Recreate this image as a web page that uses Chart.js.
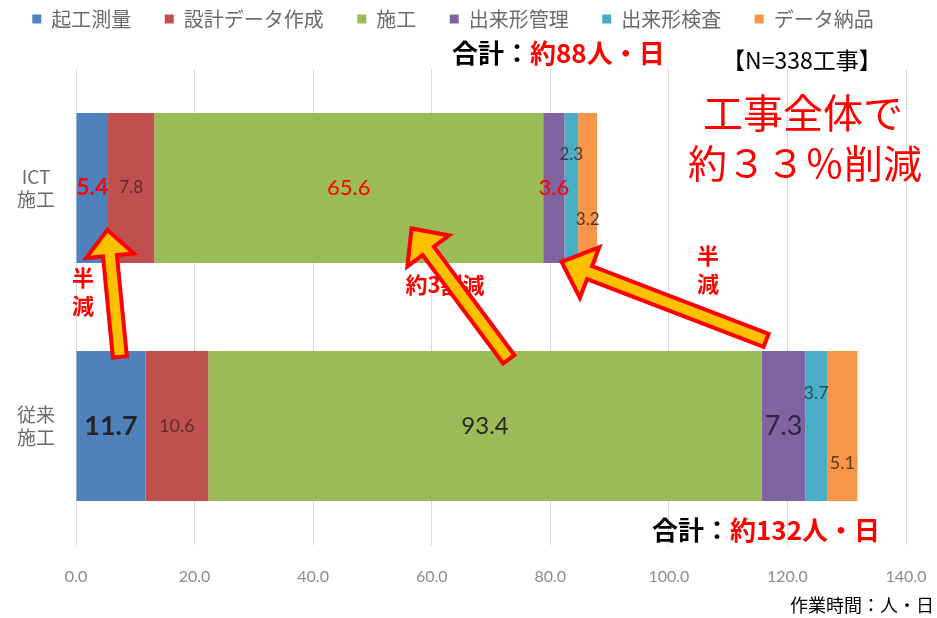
<!DOCTYPE html>
<html>
<head>
<meta charset="utf-8">
<script src="https://cdn.jsdelivr.net/npm/chart.js@4"></script>
<style>
  html, body { margin: 0; padding: 0; background: #fff; }
</style>
</head>
<body>
<canvas id="chart" width="937" height="618"></canvas>
<script>
// chart data
const categories = [['ICT', '施工'], ['従来', '施工']];
const seriesNames = ['起工測量', '設計データ作成', '施工', '出来形管理', '出来形検査', 'データ納品'];
const kikouSokuryou = [5.4, 11.7];
const sekkeiData = [7.8, 10.6];
const sekou = [65.6, 93.4];
const dekigataKanri = [3.6, 7.3];
const dekigataKensa = [2.3, 3.7];
const dataNouhin = [3.2, 5.1];
const xMin = 0, xMax = 140, xStep = 20;

const seriesValues = [kikouSokuryou, sekkeiData, sekou, dekigataKanri, dekigataKensa, dataNouhin];
const seriesColors = ['#4f81bd', '#c0504d', '#9bbb59', '#8064a2', '#4bacc6', '#f79646'];

// label look per series / per category: [colour, size, bold, dy]
const labelStyle = [
  [['#ff0000', 23, true, 0], ['#262626', 27, true, 0]],
  [['#5a2e2c', 17, false, 0], ['#5a2e2c', 18, false, 0]],
  [['#ff0000', 22, false, 0], ['#262626', 24, false, 0]],
  [['#ff0000', 22, false, 0], ['#2e2640', 27, false, 0]],
  [['#3a3f48', 17, false, -33], ['#24505c', 18, false, -33]],
  [['#4a3a30', 17, false, 32], ['#5c3a1a', 18, false, 37]]
];

// arrows in data units: [x, category index]
const arrows = [
  { from: [7.4, 0.71], to: [5.3, 0.176], head: 26, wing: 48 },
  { from: [73.0, 0.72], to: [56.6, 0.17], head: 28, wing: 52 },
  { from: [116.4, 0.64], to: [81.9, 0.31], head: 30, wing: 54 }
];

const jp = '"Noto Sans CJK JP", "Noto Sans", sans-serif';
const notes = [
  { parts: [['合計：', '#000'], ['約88人・日', '#ff0000']], x: 452, y: 53, size: 26, bold: true, align: 'left' },
  { parts: [['【N=338工事】', '#000']], x: 722, y: 60, size: 23, bold: false, align: 'left' },
  { parts: [['工事全体で', '#ff0000']], x: 803, y: 113, size: 40, bold: false, align: 'center' },
  { parts: [['約３３％削減', '#ff0000']], x: 805, y: 163, size: 39, bold: false, align: 'center' },
  { parts: [['半', '#ff0000']], x: 83, y: 278, size: 22, bold: true, align: 'center' },
  { parts: [['減', '#ff0000']], x: 83, y: 306, size: 22, bold: true, align: 'center' },
  { parts: [['約3割減', '#ff0000']], x: 445, y: 285, size: 22, bold: true, align: 'center' },
  { parts: [['半', '#ff0000']], x: 708, y: 256, size: 22, bold: true, align: 'center' },
  { parts: [['減', '#ff0000']], x: 708, y: 284, size: 22, bold: true, align: 'center' },
  { parts: [['合計：', '#000'], ['約132人・日', '#ff0000']], x: 652, y: 530, size: 26, bold: true, align: 'left' },
  { parts: [['作業時間：人・日', '#000']], x: 934, y: 605, size: 18, bold: false, align: 'right' }
];

// push the plot area down below the legend
const legendSpace = {
  id: 'legendSpace',
  beforeInit(chart) {
    const fit = chart.legend.fit;
    chart.legend.fit = function () {
      fit.call(this);
      this.height = 69;
    };
  }
};

const barLabels = {
  id: 'barLabels',
  afterDatasetsDraw(chart) {
    const ctx = chart.ctx;
    ctx.save();
    ctx.textAlign = 'center';
    ctx.textBaseline = 'middle';
    chart.data.datasets.forEach((ds, i) => {
      chart.getDatasetMeta(i).data.forEach((bar, j) => {
        const st = labelStyle[i][j];
        const cx = (bar.x + bar.base) / 2;
        ctx.fillStyle = st[0];
        ctx.font = (st[2] ? 'bold ' : '') + st[1] + 'px Lato, "Liberation Sans", sans-serif';
        ctx.fillText(ds.data[j].toFixed(1), cx, bar.y + st[3]);
      });
    });
    ctx.restore();
  }
};

function drawArrow(ctx, x1, y1, x2, y2, headL, headW) {
  const shaft = 14;
  const ang = Math.atan2(y2 - y1, x2 - x1);
  const len = Math.hypot(x2 - x1, y2 - y1);
  ctx.save();
  ctx.translate(x1, y1);
  ctx.rotate(ang);
  ctx.beginPath();
  ctx.moveTo(0, -shaft / 2);
  ctx.lineTo(len - headL, -shaft / 2);
  ctx.lineTo(len - headL, -headW / 2);
  ctx.lineTo(len, 0);
  ctx.lineTo(len - headL, headW / 2);
  ctx.lineTo(len - headL, shaft / 2);
  ctx.lineTo(0, shaft / 2);
  ctx.closePath();
  ctx.fillStyle = '#ffc000';
  ctx.fill();
  ctx.lineWidth = 4;
  ctx.lineJoin = 'miter';
  ctx.strokeStyle = '#ff0000';
  ctx.stroke();
  ctx.restore();
}

const annotations = {
  id: 'annotations',
  afterDraw(chart) {
    const ctx = chart.ctx;
    const xs = chart.scales.x, ys = chart.scales.y;
    ctx.save();
    ctx.textBaseline = 'middle';
    notes.forEach(n => {
      ctx.font = (n.bold ? 'bold ' : '') + n.size + 'px ' + jp;
      let total = 0;
      n.parts.forEach(p => { total += ctx.measureText(p[0]).width; });
      let x = n.align === 'left' ? n.x : n.align === 'right' ? n.x - total : n.x - total / 2;
      ctx.textAlign = 'left';
      n.parts.forEach(p => {
        ctx.fillStyle = p[1];
        ctx.fillText(p[0], x, n.y);
        x += ctx.measureText(p[0]).width;
      });
    });
    arrows.forEach(a => {
      drawArrow(ctx,
        xs.getPixelForValue(a.from[0]), ys.getPixelForValue(a.from[1]),
        xs.getPixelForValue(a.to[0]), ys.getPixelForValue(a.to[1]),
        a.head, a.wing);
    });
    ctx.restore();
  }
};

new Chart(document.getElementById('chart'), {
  type: 'bar',
  data: {
    labels: categories,
    datasets: seriesNames.map((name, i) => ({
      label: name,
      data: seriesValues[i],
      backgroundColor: seriesColors[i],
      borderWidth: 0,
      barPercentage: 0.63,
      categoryPercentage: 1
    }))
  },
  options: {
    indexAxis: 'y',
    responsive: false,
    animation: false,
    layout: { padding: { left: 0, right: 31, top: 0, bottom: 0 } },
    scales: {
      x: {
        stacked: true,
        min: xMin,
        max: xMax,
        ticks: {
          stepSize: xStep,
          callback: v => v.toFixed(1),
          color: '#8c8c8c',
          padding: 2,
          font: { size: 16, family: 'Lato, "Liberation Sans", sans-serif' }
        },
        grid: { color: '#d9d9d9', tickColor: 'rgba(0,0,0,0)', tickLength: 20 },
        border: { display: false },
        afterFit: s => { s.height = 73; }
      },
      y: {
        stacked: true,
        ticks: {
          color: '#6b6b6b',
          crossAlign: 'center',
          padding: 21,
          font: { size: 19, family: jp, lineHeight: 1.2 }
        },
        grid: { display: false, drawTicks: false },
        border: { display: false },
        afterFit: s => { s.width = 76; }
      }
    },
    plugins: {
      legend: {
        position: 'top',
        labels: {
          boxWidth: 9,
          boxHeight: 9,
          padding: 9,
          color: '#6b6b6b',
          font: { size: 20, family: jp },
          generateLabels(chart) {
            const items = Chart.defaults.plugins.legend.labels.generateLabels(chart);
            items.forEach((it, k) => {
              if (k < items.length - 1) it.text = it.text + '\u3000 ';
            });
            return items;
          }
        }
      },
      tooltip: { enabled: false }
    }
  },
  plugins: [legendSpace, barLabels, annotations]
});
</script>
</body>
</html>
